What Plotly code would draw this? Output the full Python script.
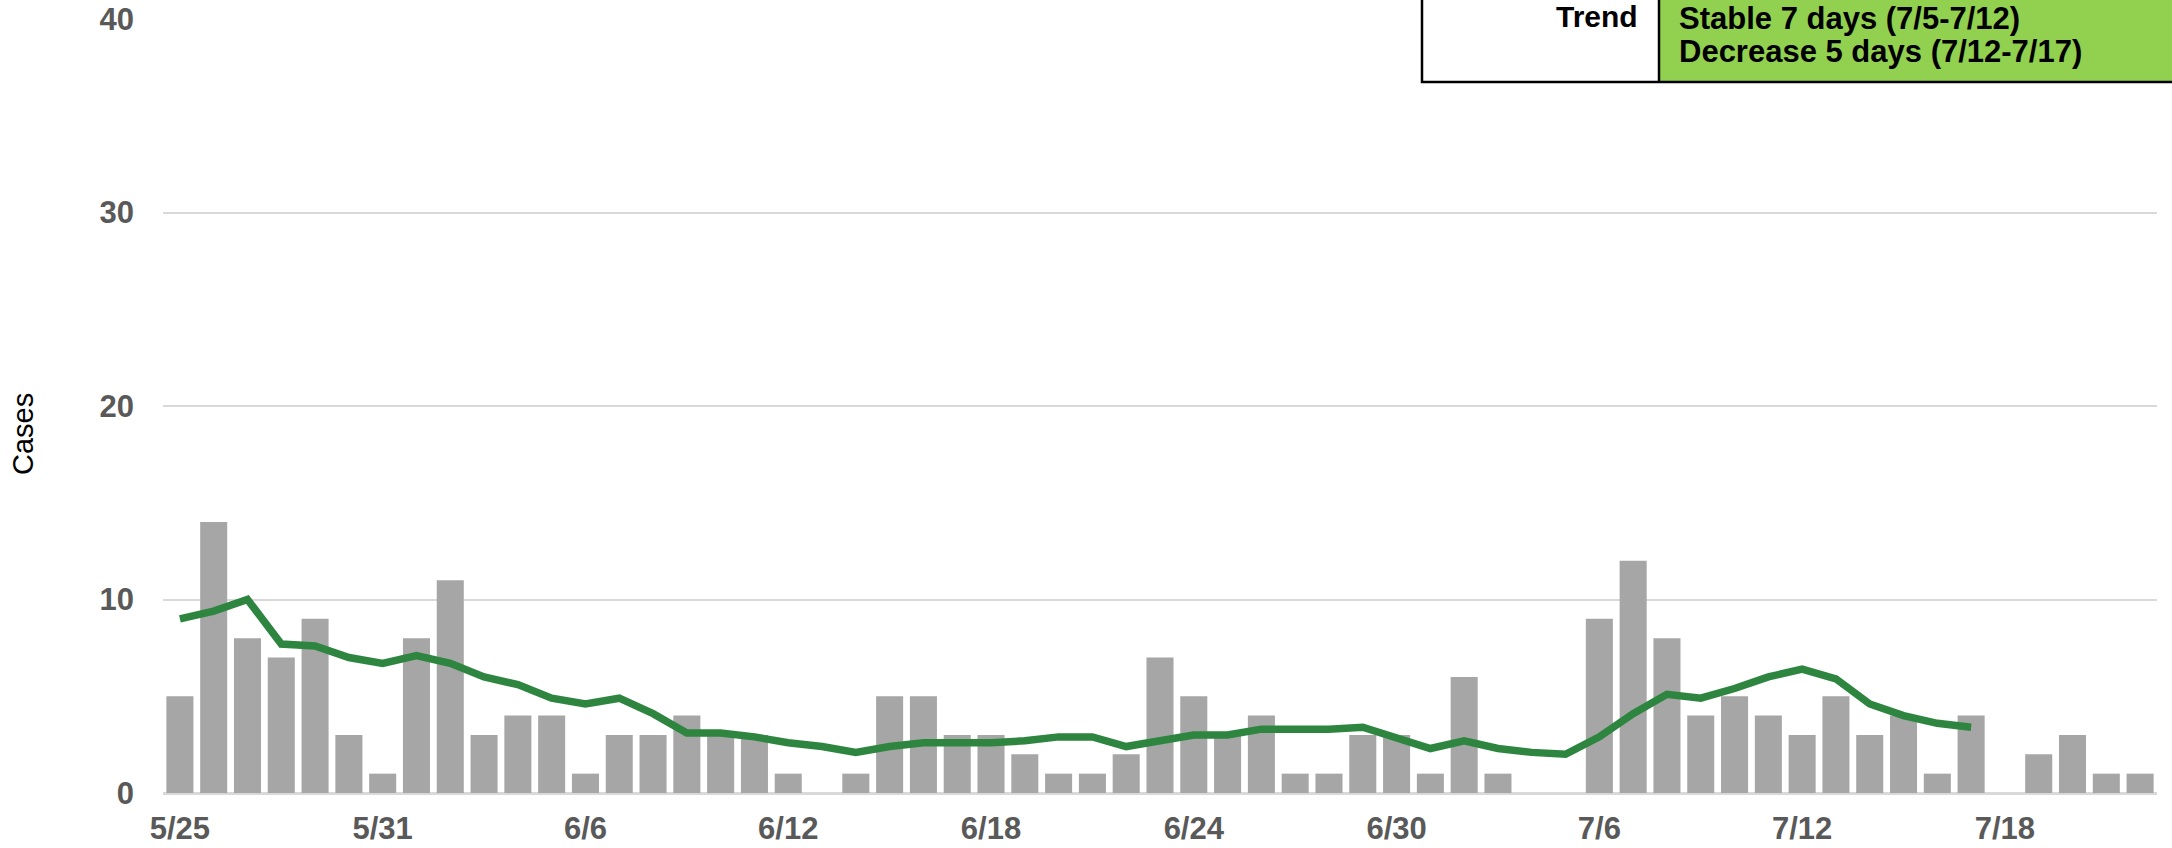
import plotly.graph_objects as go

dates = ["5/25","5/26","5/27","5/28","5/29","5/30","5/31",
         "6/1","6/2","6/3","6/4","6/5","6/6","6/7","6/8","6/9","6/10","6/11","6/12","6/13","6/14",
         "6/15","6/16","6/17","6/18","6/19","6/20","6/21","6/22","6/23","6/24","6/25","6/26","6/27",
         "6/28","6/29","6/30","7/1","7/2","7/3","7/4","7/5","7/6","7/7","7/8","7/9","7/10","7/11",
         "7/12","7/13","7/14","7/15","7/16","7/17","7/18","7/19","7/20","7/21","7/22"]

cases = [5, 14, 8, 7, 9, 3, 1,
         8, 11, 3, 4, 4, 1, 3, 3, 4, 3, 3, 1, 0, 1,
         5, 5, 3, 3, 2, 1, 1, 2, 7, 5, 3, 4, 1,
         1, 3, 3, 1, 6, 1, 0, 0, 9, 12, 8, 4, 5, 4,
         3, 5, 3, 4, 1, 4, 0, 2, 3, 1, 1]

avg = [9.0, 9.4, 10.0, 7.7, 7.6, 7.0, 6.7,
       7.1, 6.7, 6.0, 5.6, 4.9, 4.6, 4.9, 4.1, 3.1, 3.1, 2.9, 2.6, 2.4, 2.1,
       2.4, 2.6, 2.6, 2.6, 2.7, 2.9, 2.9, 2.4, 2.7, 3.0, 3.0, 3.3, 3.3,
       3.3, 3.4, 2.9, 2.3, 2.7, 2.3, 2.1, 2.0, 2.9, 4.1, 5.1, 4.9, 5.4, 6.0,
       6.4, 5.9, 4.6, 4.0, 3.6, 3.4, None, None, None, None, None]

tick_labels = ["5/25","5/31","6/6","6/12","6/18","6/24","6/30","7/6","7/12","7/18"]
y_ticks = [0, 10, 20, 30, 40]

trend_label = "Trend"
trend_lines = ["Stable 7 days (7/5-7/12)", "Decrease 5 days (7/12-7/17)"]

W, H = 2172, 848
L, R, T, B = 163, 2157, 19, 793

def px(x):
    return (x - L) / (R - L)

def py(y):
    return (B - y) / (B - T)

FONT = "Liberation Sans, Arial, sans-serif"

fig = go.Figure()
fig.add_trace(go.Bar(x=dates, y=cases, marker=dict(color="#A6A6A6", line=dict(width=0)),
                     showlegend=False, hoverinfo="x+y"))
fig.add_trace(go.Scatter(x=dates, y=avg, mode="lines", line=dict(color="#2E8540", width=7.5),
                         showlegend=False, connectgaps=False))

fig.update_layout(
    width=W, height=H,
    margin=dict(l=L, r=W - R, t=T, b=H - B, pad=0),
    paper_bgcolor="white", plot_bgcolor="white",
    bargap=0.2,
    xaxis=dict(type="category", range=[-0.5, len(dates) - 0.5], tickmode="array",
               tickvals=tick_labels, ticktext=["<b>%s</b>" % t for t in tick_labels],
               tickfont=dict(family=FONT, size=31, color="#595959"),
               showgrid=False, zeroline=False, showline=False,
               ticks="", ticklabelstandoff=14, automargin=False),
    yaxis=dict(range=[0, 40], tickvals=y_ticks, ticktext=["<b>%d</b>" % v for v in y_ticks],
               tickfont=dict(family=FONT, size=31, color="#595959"),
               showgrid=True, gridcolor="#D9D9D9", gridwidth=1.5, zeroline=True,
               zerolinecolor="#D9D9D9", zerolinewidth=2.5, showline=False, ticks="",
               ticklabelstandoff=28, automargin=False),
    font=dict(family=FONT),
)

fig.add_annotation(text="Cases", xref="paper", yref="paper", x=px(23), y=py(434),
                   textangle=-90, showarrow=False, xanchor="center", yanchor="middle",
                   font=dict(family=FONT, size=29, color="black"))

# Trend table
fig.add_shape(type="rect", xref="paper", yref="paper", x0=px(1659), x1=px(2190), y0=py(82), y1=py(-10),
              fillcolor="#92D050", line=dict(width=0), layer="above")
fig.add_shape(type="rect", xref="paper", yref="paper", x0=px(1422), x1=px(2190), y0=py(82), y1=py(-10),
              fillcolor="rgba(0,0,0,0)", line=dict(color="black", width=2.5), layer="above")
fig.add_shape(type="line", xref="paper", yref="paper", x0=px(1659), x1=px(1659), y0=py(82), y1=py(-10),
              line=dict(color="black", width=2.5), layer="above")

tfont = dict(family=FONT, size=30, color="black")
fig.add_annotation(text="<b>%s</b>" % trend_label, xref="paper", yref="paper", x=px(1640), y=py(17),
                   xanchor="right", yanchor="middle", showarrow=False, font=tfont)
for i, t in enumerate(trend_lines):
    fig.add_annotation(text="<b>%s</b>" % t, xref="paper", yref="paper", x=px(1677), y=py(18 + 34 * i),
                       xanchor="left", yanchor="middle", showarrow=False,
                       font=dict(family=FONT, size=31, color="black"))

fig.write_html("out.html", config={"displayModeBar": False},
               post_script="document.body.style.margin='0';document.body.style.overflow='hidden';")
